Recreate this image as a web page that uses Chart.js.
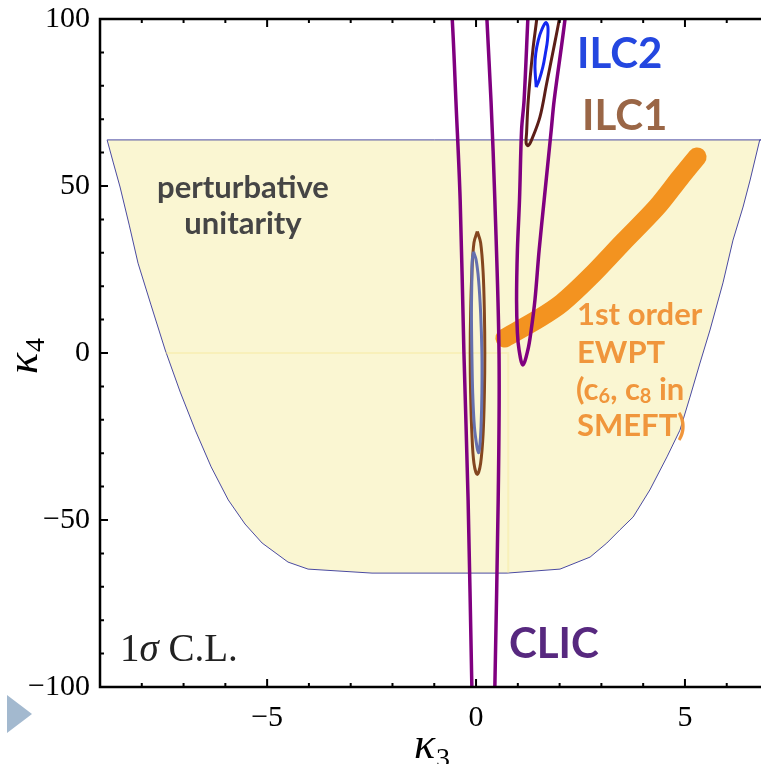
<!DOCTYPE html>
<html><head><meta charset="utf-8">
<script src="https://cdn.jsdelivr.net/npm/chart.js@4/dist/chart.umd.min.js"></script>
<style>html,body{margin:0;padding:0;background:#fff;overflow:hidden}canvas{display:block}</style>
</head><body>
<canvas id="c" width="761" height="764" style="width:761px;height:764px"></canvas>
<script>
// ---- tick labels ----
const xTickValues = [-5, 0, 5];
const xTickLabels = ['\u22125', '0', '5'];
const yTickValues = [-100, -50, 0, 50, 100];
const yTickLabels = ['\u2212100', '\u221250', '0', '50', '100'];

// ---- perturbative unitarity region (closed outline) ----
const unitK3 = [-8.83,-8.68,-8.52,-8.30,-8.09,-7.78,-7.44,-7.08,-6.72,-6.34,-5.93,-5.53,-5.12,-4.50,-4.02,-2.49,0.74,2.01,2.73,3.13,3.44,3.76,4.16,4.57,4.88,5.12,5.36,5.60,5.91,6.15,6.39,6.56,6.79,6.95,-8.83];
const unitK4 = [63.8,56.9,49.7,38.3,26.9,14.4,0.9,-11.7,-23.1,-34.1,-44.0,-51.2,-56.9,-62.6,-64.7,-65.9,-65.9,-64.7,-61.1,-56.9,-53.0,-49.1,-41.0,-31.1,-23.1,-13.2,-3.0,6.9,21.0,33.8,43.7,51.8,63.8,63.8,63.8];

// faint seam inside the region
const seamK3 = [-7.44, 0.77, 0.77];
const seamK4 = [0.0, 0.0, -65.9];

// ---- 1st order EWPT band (centre line) ----
const ewptK3 = [0.69, 1.53, 2.06, 2.73, 3.52, 4.33, 4.88, 5.29];
const ewptK4 = [4.5, 10.5, 15.0, 22.8, 33.2, 43.7, 52.4, 58.7];

// ---- ILC1 contours ----
const ilc1aK3 = [0.03,0.11,0.17,0.20,0.21,0.20,0.17,0.11,0.03,-0.05,-0.10,-0.13,-0.14,-0.13,-0.10,-0.05,0.03];
const ilc1aK4 = [36.4,33,24,12,0,-12,-24,-33,-36.4,-33,-24,-12,0,12,24,33,36.4];
const ilc1bK3 = [1.52,1.45,1.36,1.25,1.21,1.20,1.25,1.33,1.53,1.69,1.85,1.99,2.06];
const ilc1bK4 = [108,99.7,90.7,75.7,66.0,62.8,62.1,63.8,70.7,80.7,90.7,99.7,105];

// ---- ILC2 contours ----
const ilc2aK3 = [-0.06,0.00,0.06,0.11,0.14,0.14,0.12,0.09,0.06,0.02,-0.04,-0.08,-0.10,-0.11,-0.10,-0.09,-0.06];
const ilc2aK4 = [30.3,28,22,12,0,-12,-22,-28,-29.9,-28,-22,-12,0,12,22,28,30.3];
const ilc2bK3 = [1.44,1.41,1.43,1.49,1.57,1.67,1.72,1.71,1.66,1.60,1.51,1.44];
const ilc2bK4 = [79.6,85.7,89.7,93.7,96.7,98.9,97.7,93.7,89.7,85.7,81.7,79.6];

// ---- CLIC contours ----
const clicLeftK3  = [-0.64,-0.57,-0.48,-0.38,-0.29,-0.19,-0.10,-0.08];
const clicLeftK4  = [110,100,75,45.8,0,-44,-100,-110];
const clicRightK3 = [0.23,0.26,0.36,0.45,0.55,0.53,0.45,0.44];
const clicRightK4 = [110,100,75,45.8,0,-44,-100,-110];
const clicUK3 = [1.27,1.24,1.15,1.09,1.04,0.99,0.97,0.99,1.03,1.12,1.24,1.31,1.41,1.51,1.63,1.80,1.87,2.13,2.18];
const clicUK4 = [108,100,75.7,66.8,45.8,30.8,15.9,6,0.9,-3.6,0.9,6,15.9,30.8,45.8,66.8,75.7,100,108];

const pts = (xs, ys) => xs.map((x, i) => ({x: x, y: ys[i]}));

const line = (data, color, width, order, extra) => Object.assign({
  data: data, showLine: true, pointRadius: 0, borderColor: color, borderWidth: width,
  backgroundColor: 'transparent', fill: false, tension: 0.35, order: order, clip: 0
}, extra || {});

const SERIF = '"Liberation Serif","Times New Roman",serif';
const SANS = 'Lato,"Open Sans",sans-serif';

const decor = {
  id: 'decor',
  afterDatasetsDraw(chart) {
    const ctx = chart.ctx, xs = chart.scales.x, ys = chart.scales.y, a = chart.chartArea;
    ctx.save();
    ctx.strokeStyle = '#000';
    ctx.lineWidth = 2.5;
    ctx.beginPath();
    ctx.moveTo(a.left, a.top); ctx.lineTo(a.right + 2, a.top);
    ctx.moveTo(a.left, a.top - 1.2); ctx.lineTo(a.left, a.bottom + 1.2);
    ctx.moveTo(a.left, a.bottom); ctx.lineTo(a.right + 2, a.bottom);
    ctx.stroke();
    ctx.lineWidth = 2;
    ctx.beginPath();
    for (let v = -9; v <= 7; v++) {
      const p = xs.getPixelForValue(v);
      if (p <= a.left + 1 || p >= a.right) continue;
      const L = (v % 5 === 0) ? 8 : 4;
      ctx.moveTo(p, a.bottom); ctx.lineTo(p, a.bottom - L);
      ctx.moveTo(p, a.top); ctx.lineTo(p, a.top + L);
    }
    for (let v = -90; v <= 90; v += 10) {
      const p = ys.getPixelForValue(v);
      const L = (v % 50 === 0) ? 8 : 4;
      ctx.moveTo(a.left, p); ctx.lineTo(a.left + L, p);
    }
    ctx.stroke();
    ctx.restore();
  },
  afterDraw(chart) {
    const ctx = chart.ctx;
    ctx.save();
    ctx.textBaseline = 'alphabetic';
    ctx.textAlign = 'left';
    // labels
    ctx.font = 'bold 42px ' + SANS;
    ctx.fillStyle = '#2447E0'; ctx.fillText('ILC2', 577, 68);
    ctx.fillStyle = '#9A6646'; ctx.fillText('ILC1', 582, 130);
    ctx.fillStyle = '#57287F'; ctx.fillText('CLIC', 509, 658);
    ctx.textAlign = 'center';
    ctx.font = 'bold 31px ' + SANS;
    ctx.fillStyle = '#454545';
    ctx.fillText('perturbative', 243, 198);
    ctx.fillText('unitarity', 243, 234);
    // EWPT text
    ctx.textAlign = 'left';
    ctx.fillStyle = '#F0963C';
    ctx.font = 'bold 31px ' + SANS;
    ctx.fillText('1st order', 577, 325);
    ctx.fillText('EWPT', 577, 363);
    let x = 576;
    const runs = [['(c', 31, 0], ['6', 20, 3], [', c', 31, 0], ['8', 20, 3], [' in', 31, 0]];
    for (const r of runs) {
      ctx.font = 'bold ' + r[1] + 'px ' + SANS;
      ctx.fillText(r[0], x, 400 + r[2]);
      x += ctx.measureText(r[0]).width;
    }
    ctx.font = 'bold 31px ' + SANS;
    ctx.fillText('SMEFT)', 577, 436);
    // 1 sigma
    ctx.fillStyle = '#222';
    ctx.font = '39px ' + SERIF;
    ctx.fillText('1', 120, 661);
    let w1 = ctx.measureText('1').width;
    ctx.font = 'italic 39px ' + SERIF;
    ctx.fillText('\u03C3', 120 + w1, 661);
    let w2 = ctx.measureText('\u03C3').width;
    ctx.font = '39px ' + SERIF;
    ctx.fillText(' C.L.', 120 + w1 + w2, 661);
    // axis titles
    ctx.fillStyle = '#000';
    ctx.font = 'italic 44px ' + SERIF;
    ctx.fillText('\u03BA', 414, 758);
    ctx.font = '28px ' + SERIF;
    ctx.fillText('3', 436, 767);
    ctx.translate(37, 374);
    ctx.rotate(-Math.PI / 2);
    ctx.font = 'italic 44px ' + SERIF;
    ctx.fillText('\u03BA', 0, 0);
    ctx.font = '28px ' + SERIF;
    ctx.fillText('4', 22, 7);
    ctx.setTransform(1, 0, 0, 1, 0, 0);
    // slide marker triangle
    ctx.fillStyle = '#A3B9CF';
    ctx.beginPath(); ctx.moveTo(7, 695); ctx.lineTo(32, 714); ctx.lineTo(7, 733); ctx.closePath(); ctx.fill();
    ctx.restore();
  }
};

new Chart(document.getElementById('c'), {
  type: 'scatter',
  data: {
    datasets: [
      line(pts(unitK3, unitK4), '#4A4AA0', 1, 10, {fill: 'shape', backgroundColor: '#FAF6D2', tension: 0}),
      line(pts(seamK3, seamK4), 'rgba(246,232,150,0.4)', 2, 9, {tension: 0}),
      line(pts(ewptK3, ewptK4), '#F39320', 19, 5, {borderCapStyle: 'round', borderJoinStyle: 'round', tension: 0.3}),
      line(pts(ilc1aK3, ilc1aK4), '#84461F', 3, 3),
      line(pts(ilc2aK3, ilc2aK4), '#6570AE', 3, 2),
      line(pts(ilc1bK3, ilc1bK4), '#5C1E18', 3, 3),
      line(pts(ilc2bK3, ilc2bK4), '#1428F0', 3, 2),
      line(pts(clicLeftK3, clicLeftK4), '#800080', 3.5, 1),
      line(pts(clicRightK3, clicRightK4), '#800080', 3.5, 1),
      line(pts(clicUK3, clicUK4), '#800080', 3.5, 1)
    ]
  },
  options: {
    responsive: false,
    devicePixelRatio: 1,
    animation: false,
    layout: {padding: {top: 19, right: 0, left: 0, bottom: 0}},
    plugins: {legend: {display: false}, tooltip: {enabled: false}},
    scales: {
      x: {
        type: 'linear', position: 'bottom', min: -9, max: 6.82,
        grid: {display: false, drawTicks: false}, border: {display: false},
        ticks: {
          stepSize: 5, includeBounds: false, padding: 13, color: '#000', maxRotation: 0,
          font: {family: SERIF, size: 30},
          callback: v => { const i = xTickValues.indexOf(v); return i >= 0 ? xTickLabels[i] : ''; }
        },
        afterFit: s => { s.height = 77; }
      },
      y: {
        type: 'linear', position: 'left', min: -100, max: 100,
        grid: {display: false, drawTicks: false}, border: {display: false},
        ticks: {
          stepSize: 50, includeBounds: false, padding: 10, color: '#000',
          font: {family: SERIF, size: 30, lineHeight: 0.5},
          callback: v => { const i = yTickValues.indexOf(v); return i >= 0 ? yTickLabels[i] : ''; }
        },
        afterFit: s => { s.width = 100; }
      }
    }
  },
  plugins: [decor]
});
</script>
</body></html>
